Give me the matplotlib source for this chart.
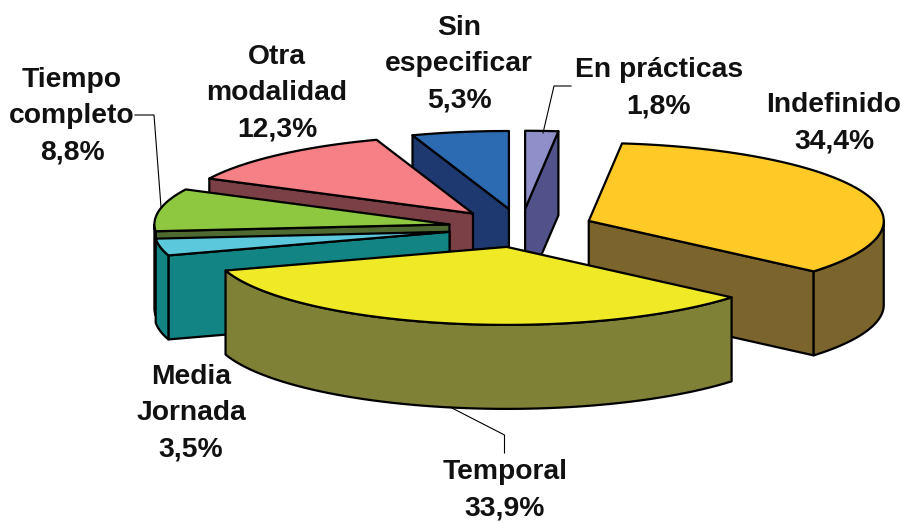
import numpy as np
import matplotlib
matplotlib.use("Agg")
import matplotlib.pyplot as plt
from matplotlib.patches import Polygon

categories = ["En prácticas", "Indefinido", "Temporal", "Media Jornada",
              "Tiempo completo", "Otra modalidad", "Sin especificar"]
values = [1.8, 34.4, 33.9, 3.5, 8.8, 12.3, 5.3]
top_colors = ["#8F8FC9", "#FFC926", "#EFE926", "#5CC8DC", "#8DC840", "#F58085", "#2C6BB2"]
side_colors = ["#51528A", "#7B652C", "#7E8136", "#128484", "#4E6A30", "#7B4046", "#1E3870"]

# pie geometry in pixels of the 901x522 picture
CX, CY = 521, 228
RX, RY = 295, 78
DEPTH = 84
EXPLODE = 0.247

plt.rcParams['font.family'] = ['Liberation Sans', 'DejaVu Sans']

fig = plt.figure(figsize=(9.01, 5.22), dpi=100)
ax = fig.add_axes([0, 0, 1, 1])
ax.set_xlim(0, 901)
ax.set_ylim(522, 0)
ax.axis('off')


def pt(ang, ox, oy):
    a = np.radians(ang)
    return np.column_stack([ox + RX * np.sin(a), oy - RY * np.cos(a)])


def face(xy, color, z):
    ax.add_patch(Polygon(xy, closed=True, facecolor=color, edgecolor='black',
                         linewidth=1.6, joinstyle='round', zorder=z))


def draw_slice(a0, a1, top, side, z):
    mid = (a0 + a1) / 2
    ox, oy = pt(np.array([mid]), CX, CY)[0]
    ox = CX + (ox - CX) * EXPLODE
    oy = CY + (oy - CY) * EXPLODE
    apex = np.array([[ox, oy]])
    down = np.array([0, DEPTH])

    # radial cut faces, only those turned to the viewer
    if np.sin(np.radians(a0)) < -1e-6:
        p = pt(np.array([a0]), ox, oy)
        face(np.vstack([apex, p, p + down, apex + down]), side, z)
    if np.sin(np.radians(a1)) > 1e-6:
        p = pt(np.array([a1]), ox, oy)
        face(np.vstack([apex, p, p + down, apex + down]), side, z)

    # outer wall on the front half
    w0, w1 = max(a0, 90), min(a1, 270)
    if w1 > w0:
        arc = pt(np.linspace(w0, w1, 60), ox, oy)
        face(np.vstack([arc, (arc + down)[::-1]]), side, z)

    arc = pt(np.linspace(a0, a1, 80), ox, oy)
    face(np.vstack([apex, arc]), top, z + 0.5)


ends = np.cumsum(values) / np.sum(values) * 360
starts = np.concatenate([[0], ends[:-1]])

# back to front
for z, i in enumerate([1, 0, 6, 5, 4, 3, 2]):
    draw_slice(starts[i], ends[i], top_colors[i], side_colors[i], z + 1)

# leader lines
leaders = [
    ([543, 554, 571], [133, 86, 86]),
    ([135, 154, 161], [115, 115, 207]),
    ([450, 504.5, 504.5], [407, 435, 453]),
]
for lx, ly in leaders:
    ax.plot(lx, ly, color='black', linewidth=0.8, zorder=20)

labels = [
    ("Sin\nespecificar\n5,3%", 459, 64),
    ("En prácticas\n1,8%", 659, 88),
    ("Indefinido\n34,4%", 834, 123),
    ("Otra\nmodalidad\n12,3%", 277, 93),
    ("Tiempo\ncompleto\n8,8%", 72, 116),
    ("Media\nJornada\n3,5%", 191, 413),
    ("Temporal\n33,9%", 505, 490),
]
for txt, x, y in labels:
    ax.text(x, y, txt, ha='center', va='center', fontsize=20.3, fontweight='bold',
            color='#111111', linespacing=1.52, zorder=30)

fig.savefig('out.png', dpi=100)
